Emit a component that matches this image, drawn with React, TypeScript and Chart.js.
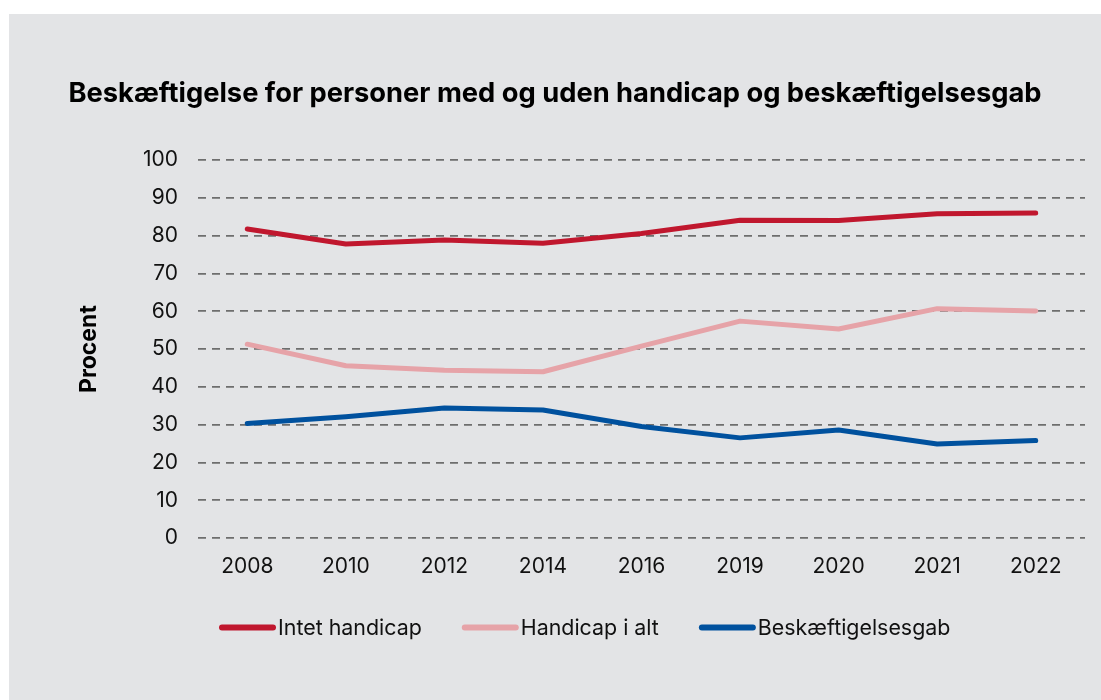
import React, { useEffect, useRef } from "react";
import { Chart, registerables } from "chart.js";

Chart.register(...registerables);

const years = ["2008", "2010", "2012", "2014", "2016", "2019", "2020", "2021", "2022"];
const intetHandicap = [81.8, 77.8, 78.9, 78.0, 80.6, 84.1, 84.0, 85.8, 86.0];
const handicapIAlt = [51.3, 45.6, 44.4, 44.0, 50.8, 57.4, 55.3, 60.7, 60.1];
const beskaeftigelsesgab = [30.3, 32.1, 34.4, 33.9, 29.5, 26.5, 28.6, 24.9, 25.8];

const seriesNames = ["Intet handicap", "Handicap i alt", "Beskæftigelsesgab"];
const seriesColors = ["#c0172e", "#e6a3a8", "#00519e"];
const title = "Beskæftigelse for personer med og uden handicap og beskæftigelsesgab";
const yTitle = "Procent";

const BG = "#e3e4e6";

const legendPlugin = {
  id: "customLegend",
  afterDraw(chart: any) {
    const ctx = chart.ctx as CanvasRenderingContext2D;
    const ds = chart.data.datasets;
    const y = 613.5;
    let x = 210;
    const lineW = 57;
    ctx.save();
    ctx.font = "21.4px Inter, sans-serif";
    ctx.textBaseline = "middle";
    ctx.textAlign = "left";
    ds.forEach((d: any) => {
      ctx.strokeStyle = d.borderColor;
      ctx.lineWidth = 6;
      ctx.lineCap = "round";
      ctx.beginPath();
      ctx.moveTo(x + 3, y);
      ctx.lineTo(x + lineW - 3, y);
      ctx.stroke();
      x += lineW + 2;
      const w = ctx.measureText(d.label).width;
      ctx.fillStyle = "#111";
      ctx.fillText(d.label, x, y + 1);
      x += w + 40;
    });
    ctx.restore();
  },
};

export default function App() {
  const ref = useRef<HTMLCanvasElement | null>(null);

  useEffect(() => {
    if (!ref.current) return;
    const values = [intetHandicap, handicapIAlt, beskaeftigelsesgab];
    const chart = new Chart(ref.current, {
      type: "line",
      data: {
        labels: years,
        datasets: values.map((v, i) => ({
          label: seriesNames[i],
          data: v,
          borderColor: seriesColors[i],
          backgroundColor: seriesColors[i],
          borderWidth: 5,
          borderCapStyle: "round",
          borderJoinStyle: "round",
          pointRadius: 0,
          pointHoverRadius: 0,
          tension: 0,
          fill: false,
        })),
      },
      plugins: [legendPlugin],
      options: {
        animation: false,
        responsive: false,
        maintainAspectRatio: false,
        layout: { padding: { left: 16, right: 16, top: 0, bottom: 126 } },
        plugins: {
          legend: { display: false },
          tooltip: { enabled: false },
          title: {
            display: true,
            text: title,
            color: "#000",
            font: { family: "Inter", size: 27.3, weight: "bold" },
            padding: { top: 63, bottom: 50.4 },
          },
        },
        scales: {
          x: {
            offset: true,
            grid: { display: false, drawTicks: false },
            border: { display: false },
            ticks: {
              color: "#111",
              font: { family: "Inter", size: 21 },
              padding: 16,
              maxRotation: 0,
            },
            afterFit: (s: any) => {
              s.height = 36;
            },
          },
          y: {
            min: 0,
            max: 100,
            grid: {
              color: "#6e6e6e",
              lineWidth: 1.7,
              drawTicks: false,
            },
            border: { display: false, dash: [8, 6] },
            ticks: {
              stepSize: 10,
              color: "#111",
              font: { family: "Inter", size: 21 },
              padding: 20,
            },
            title: {
              display: true,
              text: yTitle,
              color: "#000",
              font: { family: "Inter", size: 23, weight: "bold" },
              padding: { top: 50, bottom: 0 },
            },
            afterFit: (s: any) => {
              s.width = 173;
            },
          },
        },
      },
    });
    return () => chart.destroy();
  }, []);

  return (
    <div
      style={{
        position: "absolute",
        left: 9,
        top: 14,
        width: 1092,
        height: 686,
        background: BG,
        overflow: "hidden",
      }}
    >
      <canvas ref={ref} width={1092} height={686} style={{ display: "block" }} />
    </div>
  );
}
